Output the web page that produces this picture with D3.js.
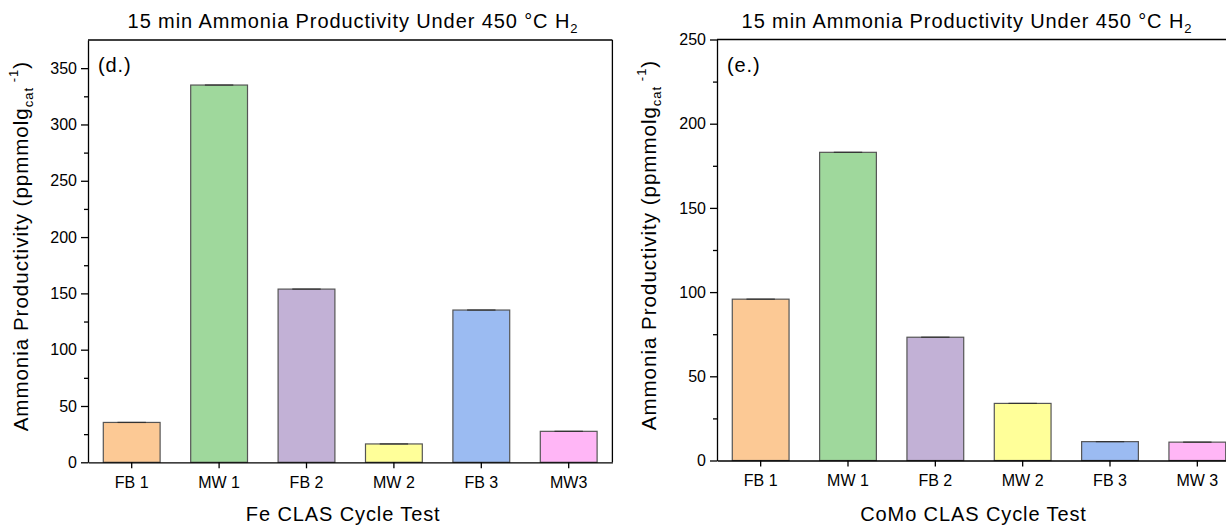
<!DOCTYPE html>
<html>
<head>
<meta charset="utf-8">
<script src="https://cdn.jsdelivr.net/npm/d3@7"></script>
<style>
    body { margin: 0; background: #fff; }
    text { font-family: 'Liberation Sans', Arial, sans-serif; fill: #000; }
    .domain, .tick line { stroke: #000; stroke-width: 1.3; }
</style>
</head>
<body>
<div id="chart"></div>
<script>
// Data
var categoriesFe = ['FB 1', 'MW 1', 'FB 2', 'MW 2', 'FB 3', 'MW3'];
var valuesFe = [35.4, 335, 153.8, 16.3, 135.2, 27.5];
var categoriesCoMo = ['FB 1', 'MW 1', 'FB 2', 'MW 2', 'FB 3', 'MW 3'];
var valuesCoMo = [95.8, 183, 73.2, 33.9, 11.2, 10.9];
var yTicksFe = [0, 50, 100, 150, 200, 250, 300, 350];
var yTicksCoMo = [0, 50, 100, 150, 200, 250];
var barColors = ['#fcc995', '#9fd89c', '#c2b1d6', '#ffff99', '#9bbbf2', '#ffb6f6'];

var svg = d3.select('#chart').append('svg')
    .attr('width', 1226)
    .attr('height', 526);

function barPanel(cfg) {
    var g = svg.append('g');

    var xScale = d3.scaleBand()
        .domain(cfg.categories)
        .range([cfg.left, cfg.right])
        .paddingInner(0.35)
        .paddingOuter(0.175);

    var yScale = d3.scaleLinear()
        .domain([0, cfg.yMax])
        .range([cfg.bottom, cfg.top]);

    var data = cfg.categories.map(function(c, i) {
        return {cat: c, value: cfg.values[i], color: barColors[i]};
    });

    // Bars
    g.selectAll('.bar').data(data).enter()
        .append('rect')
        .attr('class', 'bar')
        .attr('x', function(d) { return xScale(d.cat); })
        .attr('y', function(d) { return yScale(d.value); })
        .attr('width', xScale.bandwidth())
        .attr('height', function(d) { return yScale(0) - yScale(d.value); })
        .attr('fill', function(d) { return d.color; })
        .attr('stroke', '#555')
        .attr('stroke-width', 1.2);

    // tiny error bar caps
    g.selectAll('.cap').data(data).enter()
        .append('line')
        .attr('x1', function(d) { return xScale(d.cat) + xScale.bandwidth() * 0.25; })
        .attr('x2', function(d) { return xScale(d.cat) + xScale.bandwidth() * 0.75; })
        .attr('y1', function(d) { return yScale(d.value); })
        .attr('y2', function(d) { return yScale(d.value); })
        .attr('stroke', '#333')
        .attr('stroke-width', 1.2);

    // Frame
    g.append('line')
        .attr('x1', cfg.left).attr('x2', cfg.right)
        .attr('y1', cfg.top).attr('y2', cfg.top)
        .attr('stroke', '#000').attr('stroke-width', 1.3);
    if (cfg.rightFrame) {
        g.append('line')
            .attr('x1', cfg.right).attr('x2', cfg.right)
            .attr('y1', cfg.top).attr('y2', cfg.bottom)
            .attr('stroke', '#000').attr('stroke-width', 1.3);
    }

    // Minor y ticks
    var minor = d3.range(25, cfg.yMax, 50);
    g.append('g')
        .attr('transform', 'translate(' + cfg.left + ',0)')
        .call(d3.axisLeft(yScale).tickValues(minor).tickFormat('').tickSize(4).tickSizeOuter(0))
        .select('.domain').remove();

    // Y axis
    g.append('g')
        .attr('transform', 'translate(' + cfg.left + ',0)')
        .call(d3.axisLeft(yScale).tickValues(cfg.yTicks).tickSize(7).tickSizeOuter(0).tickPadding(4))
        .selectAll('text').style('font-size', '16px');

    // X axis
    g.append('g')
        .attr('transform', 'translate(0,' + cfg.bottom + ')')
        .call(d3.axisBottom(xScale).tickSize(6).tickSizeOuter(0).tickPadding(8))
        .selectAll('text').style('font-size', '16px');

    // Chart title
    var title = g.append('text')
        .attr('x', cfg.titleX)
        .attr('y', 28)
        .attr('text-anchor', 'middle')
        .style('font-size', '20px')
        .style('letter-spacing', '0.9px')
        .text('15 min Ammonia Productivity Under 450 °C H');
    title.append('tspan')
        .attr('dy', 5)
        .style('font-size', '13px')
        .text('2');

    // Panel label
    g.append('text')
        .attr('x', cfg.left + 10)
        .attr('y', cfg.top + 32)
        .style('font-size', '20px')
        .style('letter-spacing', '0.9px')
        .text(cfg.label);

    // X title
    g.append('text')
        .attr('x', (cfg.left + Math.min(cfg.right, 1226)) / 2 + cfg.xTitleShift)
        .attr('y', 521)
        .attr('text-anchor', 'middle')
        .style('font-size', '20px')
        .style('letter-spacing', '0.9px')
        .text(cfg.xTitle);

    // Y title
    var yt = g.append('text')
        .attr('transform', 'translate(' + cfg.yTitleX + ',' + ((cfg.top + cfg.bottom) / 2 - 5) + ') rotate(-90)')
        .attr('text-anchor', 'middle')
        .style('font-size', '20.5px')
        .style('letter-spacing', '1px');
    yt.append('tspan').text('Ammonia Productivity (ppmmolg');
    yt.append('tspan').attr('dy', 5).style('font-size', '13px').text('cat');
    yt.append('tspan').attr('dy', -15).style('font-size', '13px').text(' -1');
    yt.append('tspan').attr('dy', 10).text(')');
}

barPanel({
    categories: categoriesFe, values: valuesFe, yTicks: yTicksFe, yMax: 375,
    left: 88, right: 612.4, top: 40, bottom: 462.3, rightFrame: true,
    titleX: 353, label: '(d.)', xTitle: 'Fe CLAS Cycle Test', xTitleShift: -7, yTitleX: 28
});

barPanel({
    categories: categoriesCoMo, values: valuesCoMo, yTicks: yTicksCoMo, yMax: 250,
    left: 717, right: 1241, top: 39.5, bottom: 460.5, rightFrame: false,
    titleX: 967, label: '(e.)', xTitle: 'CoMo CLAS Cycle Test', xTitleShift: 2, yTitleX: 656
});
</script>
</body>
</html>
